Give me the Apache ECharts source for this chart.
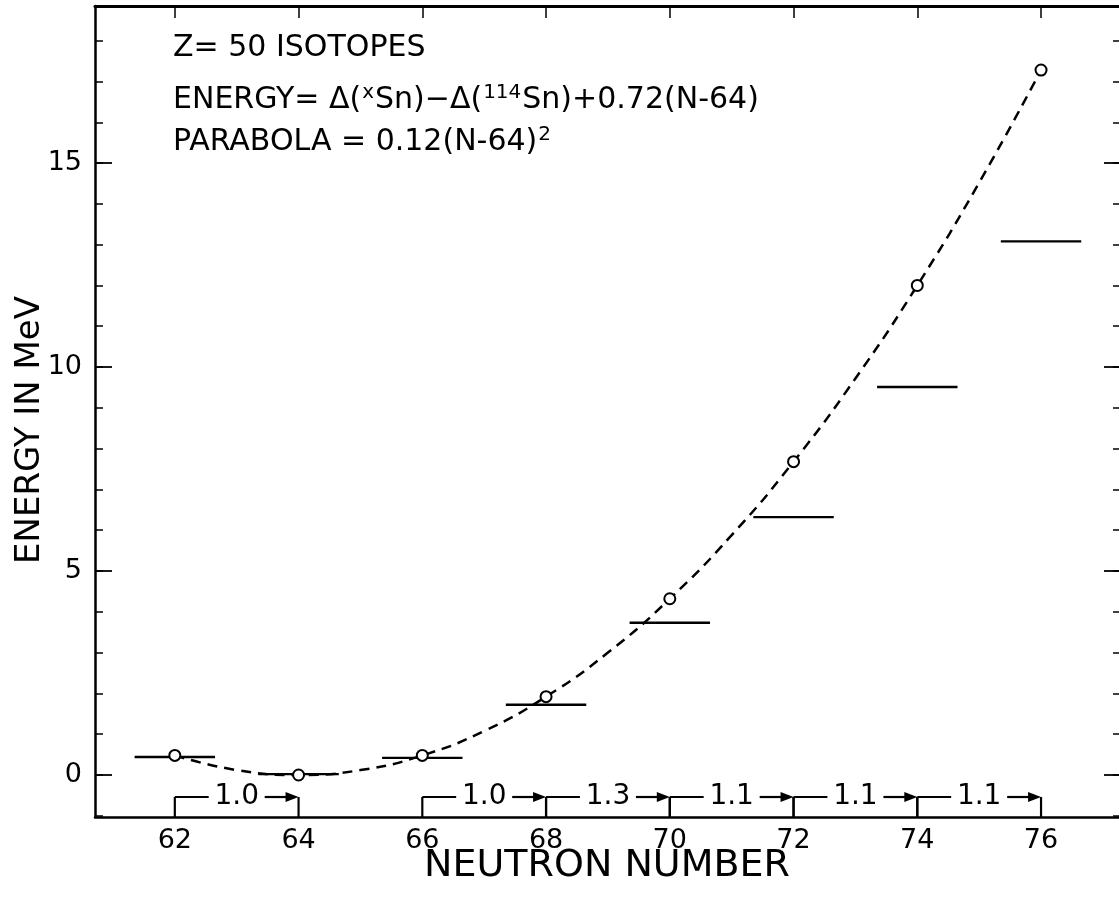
<!DOCTYPE html>
<html>
<head>
<meta charset="utf-8">
<title>Z = 50 isotopes</title>
<script src="https://cdn.jsdelivr.net/npm/echarts@6/dist/echarts.min.js"></script>
<style>
  html, body { margin: 0; padding: 0; background: #fff; }
  #chart { width: 1119px; height: 900px; }
</style>
</head>
<body>
<div id="chart"></div>
<script>
// Neutron numbers along the fitted parabola and its values (MeV)
const parabolaN = [62, 63, 64, 65, 66, 67, 68, 69, 70, 71, 72, 73, 74, 75, 76];
const parabolaMeV = [0.48, 0.12, 0.0, 0.12, 0.48, 1.08, 1.92, 3.0, 4.32, 5.88, 7.68, 9.72, 12.0, 14.52, 17.28];

// Even-N tin isotopes and their measured energies (MeV)
const isotopeN = [62, 64, 66, 68, 70, 72, 74, 76];
const energyMeV = [0.44, 0.02, 0.42, 1.72, 3.73, 6.32, 9.51, 13.08];

// Spacing brackets drawn along the bottom of the plot
const spacingFrom = [62, 66, 68, 70, 72, 74];
const spacingTo = [64, 68, 70, 72, 74, 76];
const spacingLabel = ['1.0', '1.0', '1.3', '1.1', '1.1', '1.1'];

// Axis ticks and labels
const xTickLabels = [62, 64, 66, 68, 70, 72, 74, 76];
const yTickLabels = [0, 5, 10, 15];
const yMinorTicks = [-1, 0, 1, 2, 3, 4, 5, 6, 7, 8, 9, 10, 11, 12, 13, 14, 15, 16, 17, 18];

const FONT = 'DejaVu Sans';
const X_MIN = 60.71, X_MAX = 77.26;
const Y_MIN = -1.03, Y_MAX = 18.85;

const chart = echarts.init(document.getElementById('chart'), null, { renderer: 'canvas' });

const yBase = {
  type: 'value', min: Y_MIN, max: Y_MAX,
  splitLine: { show: false }
};
const xBase = {
  type: 'value', min: X_MIN, max: X_MAX,
  splitLine: { show: false }
};

// superscript style for the formula lines
const richText = {
  base: { fontFamily: FONT, fontSize: 30, color: '#000' },
  sup: { fontFamily: FONT, fontSize: 20, color: '#000', padding: [0, 1, 14, 1] }
};

const option = {
  animation: false,
  backgroundColor: '#fff',
  grid: { left: 95, right: 0, top: 6, bottom: 83, containLabel: false },
  xAxis: [
    Object.assign({}, xBase, {
      position: 'bottom',
      axisLine: { show: true, onZero: false, lineStyle: { color: '#000', width: 2.5 } },
      axisTick: { show: false },
      axisLabel: {
        customValues: xTickLabels, color: '#000', fontFamily: FONT, fontSize: 27, margin: 10
      }
    }),
    Object.assign({}, xBase, {
      position: 'top',
      axisLine: { show: true, onZero: false, lineStyle: { color: '#000', width: 3 } },
      axisTick: { show: true, inside: true, length: 12, customValues: xTickLabels, lineStyle: { color: '#000', width: 1.5 } },
      axisLabel: { show: false }
    })
  ],
  yAxis: [
    Object.assign({}, yBase, {
      position: 'left',
      axisLine: { show: true, onZero: false, lineStyle: { color: '#000', width: 2.5 } },
      axisTick: { show: true, inside: true, length: 8, customValues: yMinorTicks, lineStyle: { color: '#000', width: 1.5 } },
      axisLabel: {
        customValues: yTickLabels, color: '#000', fontFamily: FONT, fontSize: 27, margin: 13
      }
    }),
    Object.assign({}, yBase, {
      position: 'left',
      axisLine: { show: false },
      axisTick: { show: true, inside: true, length: 17, customValues: yTickLabels, lineStyle: { color: '#000', width: 1.8 } },
      axisLabel: { show: false }
    }),
    Object.assign({}, yBase, {
      position: 'right',
      axisLine: { show: false },
      axisTick: { show: true, inside: true, length: 6, customValues: yMinorTicks, lineStyle: { color: '#000', width: 1.5 } },
      axisLabel: { show: false }
    }),
    Object.assign({}, yBase, {
      position: 'right',
      axisLine: { show: false },
      axisTick: { show: true, inside: true, length: 15, customValues: yTickLabels, lineStyle: { color: '#000', width: 1.8 } },
      axisLabel: { show: false }
    })
  ],
  series: [
    {
      // parabola 0.12(N-64)^2, dashed
      type: 'line',
      xAxisIndex: 0, yAxisIndex: 0,
      data: parabolaN.map((n, i) => [n, parabolaMeV[i]]),
      smooth: true,
      showSymbol: false,
      lineStyle: { color: '#000', width: 2.5, type: [10, 7] },
      z: 2
    },
    {
      // measured energy levels as short horizontal strokes
      type: 'custom',
      xAxisIndex: 0, yAxisIndex: 0,
      data: isotopeN.map((n, i) => [n, energyMeV[i]]),
      renderItem: function (params, api) {
        const n = api.value(0), e = api.value(1);
        const l = api.coord([n - 0.65, e]);
        const r = api.coord([n + 0.65, e]);
        return {
          type: 'line',
          shape: { x1: l[0], y1: l[1], x2: r[0], y2: r[1] },
          style: { stroke: '#000', lineWidth: 2.4 }
        };
      },
      z: 3
    },
    {
      // parabola values at the even-N isotopes
      type: 'scatter',
      xAxisIndex: 0, yAxisIndex: 0,
      data: isotopeN.map(n => [n, parabolaMeV[parabolaN.indexOf(n)]]),
      symbol: 'circle',
      symbolSize: 11,
      itemStyle: { color: '#fff', borderColor: '#000', borderWidth: 2, opacity: 1 },
      z: 4
    },
    {
      // spacing brackets with arrowheads and values
      type: 'custom',
      xAxisIndex: 0, yAxisIndex: 0,
      data: spacingFrom.map((a, i) => [a, spacingTo[i]]),
      renderItem: function (params, api) {
        const a = api.value(0), b = api.value(1);
        const p0 = api.coord([a, -0.54]);
        const p1 = api.coord([b, -0.54]);
        const yb = api.coord([a, Y_MIN])[1];
        const y = p0[1];
        const mid = (p0[0] + p1[0]) / 2;
        const gap = 28;
        const st = { stroke: '#000', lineWidth: 2.2 };
        return {
          type: 'group',
          children: [
            { type: 'line', shape: { x1: p0[0], y1: y, x2: p0[0], y2: yb }, style: st },
            { type: 'line', shape: { x1: p1[0], y1: y, x2: p1[0], y2: yb }, style: st },
            { type: 'line', shape: { x1: p0[0], y1: y, x2: mid - gap, y2: y }, style: st },
            { type: 'line', shape: { x1: mid + gap, y1: y, x2: p1[0] - 8, y2: y }, style: st },
            {
              type: 'polygon',
              shape: { points: [[p1[0] - 13, y - 5], [p1[0], y], [p1[0] - 13, y + 5]] },
              style: { fill: '#000' }
            },
            {
              type: 'text',
              x: mid, y: y,
              style: {
                text: spacingLabel[params.dataIndex],
                fill: '#000', font: '28px "' + FONT + '"',
                align: 'center', verticalAlign: 'middle'
              }
            }
          ]
        };
      },
      z: 5
    }
  ],
  graphic: [
    {
      type: 'text', left: 173, top: 33,
      style: { text: 'Z= 50 ISOTOPES', fill: '#000', font: '30px "' + FONT + '"' }
    },
    {
      type: 'text', left: 173, top: 83,
      style: {
        text: '{base|ENERGY= Δ(}{sup|x}{base|Sn)−Δ(}{sup|114}{base|Sn)+0.72(N-64)}',
        rich: richText
      }
    },
    {
      type: 'text', left: 173, top: 125,
      style: {
        text: '{base|PARABOLA = 0.12(N-64)}{sup|2}',
        rich: richText
      }
    },
    {
      type: 'text', x: 30, y: 430, rotation: Math.PI / 2,
      style: {
        text: 'ENERGY IN MeV', fill: '#000', font: '34px "' + FONT + '"',
        align: 'center', verticalAlign: 'middle'
      }
    },
    {
      type: 'text', x: 607, y: 866,
      style: {
        text: 'NEUTRON NUMBER', fill: '#000', font: '38px "' + FONT + '"',
        align: 'center', verticalAlign: 'middle'
      }
    }
  ]
};

chart.setOption(option);
</script>
</body>
</html>
